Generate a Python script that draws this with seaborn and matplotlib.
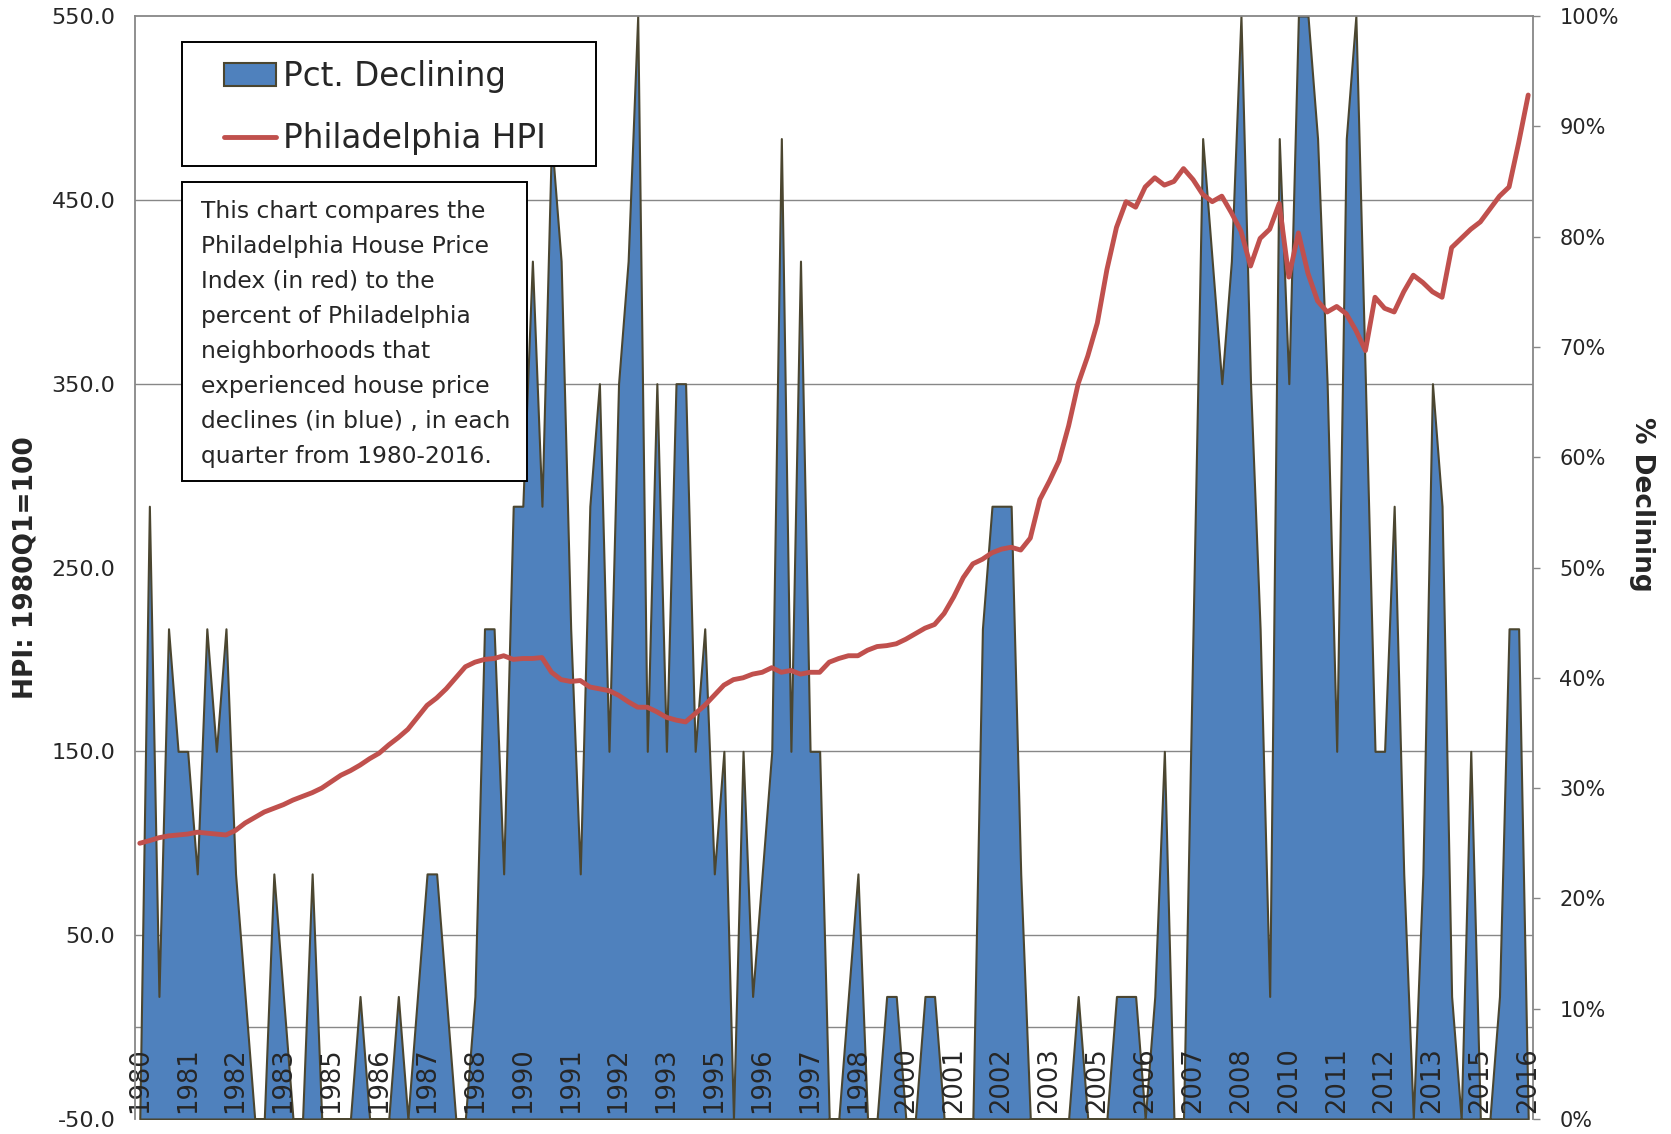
import numpy as np
import pandas as pd
import matplotlib
matplotlib.use("Agg")
import matplotlib.pyplot as plt
import seaborn as sns
from matplotlib.patches import Rectangle, Patch
from matplotlib.lines import Line2D
from matplotlib.ticker import FuncFormatter

# ---- data: quarterly, 1980Q1 .. 2016Q2 ----
quarters = [f"{y}Q{q}" for y in range(1980, 2017) for q in range(1, 5)][:146]

# number of the 9 Philadelphia neighborhoods with a price decline in the quarter
n_neighborhoods = 9
n_declining = [
    0, 5, 1, 4, 3, 3, 2, 4, 3, 4, 2, 1, 0, 0, 2, 1, 0, 0, 2, 0,
    0, 0, 0, 1, 0, 0, 0, 1, 0, 1, 2, 2, 1, 0, 0, 1, 4, 4, 2, 5,
    5, 7, 5, 8, 7, 4, 2, 5, 6, 3, 6, 7, 9, 3, 6, 3, 6, 6, 3, 4,
    2, 3, 0, 3, 1, 2, 3, 8, 3, 7, 3, 3, 0, 0, 1, 2, 0, 0, 1, 1,
    0, 0, 1, 1, 0, 0, 0, 0, 4, 5, 5, 5, 2, 0, 0, 0, 0, 0, 1, 0,
    0, 0, 1, 1, 1, 0, 1, 3, 0, 0, 4, 8, 7, 6, 7, 9, 6, 4, 1, 8,
    6, 9, 9, 8, 6, 3, 8, 9, 6, 3, 3, 5, 2, 0, 2, 6, 5, 1, 0, 3,
    0, 0, 1, 4, 4, 0,
]
pct_declining = [v / n_neighborhoods for v in n_declining]

# Philadelphia house price index, 1980Q1 = 100
hpi = [
    100, 101.4, 103, 104, 104.5, 105, 106, 105.5, 105, 104.5,
    107, 111, 114, 117, 119, 121, 123.5, 125.5, 127.5, 130,
    133.5, 137, 139.5, 142.5, 146, 149, 153.5, 157.5, 162, 168.5,
    175, 179, 184, 190, 196, 198.5, 200, 200.5, 202, 200,
    200.5, 200.5, 201, 193, 189, 188, 188.5, 185, 184, 183,
    180.5, 177, 174, 174, 171.5, 168.5, 167, 166, 170.5, 175,
    180.5, 186, 189, 190, 192, 193, 195.5, 193, 194, 192,
    193, 193, 198.5, 200.5, 202, 202, 205, 207, 207.5, 208.5,
    211, 214, 217, 219, 225, 234, 244.5, 252, 254.5, 258,
    260, 261, 259.5, 266, 287, 297, 308, 327, 350, 365,
    383, 412, 435, 449, 446, 457, 462, 458, 460, 467,
    461, 453, 449, 452, 443, 433, 414, 429, 434, 448,
    408, 432, 410, 395, 389, 392, 388, 379, 368, 397,
    391, 389, 400, 409, 405, 400, 397, 424, 429, 434,
    438, 445, 452, 457, 481, 507,
]

tick_years = [
    "1980", "1981", "1982", "1983", "1985", "1986", "1987", "1988",
    "1990", "1991", "1992", "1993", "1995", "1996", "1997", "1998",
    "2000", "2001", "2002", "2003", "2005", "2006", "2007", "2008",
    "2010", "2011", "2012", "2013", "2015", "2016",
]
tick_pos = list(range(0, len(quarters), 5))

note_lines = [
    "This chart compares the",
    "Philadelphia House Price",
    "Index (in red) to the",
    "percent of Philadelphia",
    "neighborhoods that",
    "experienced house price",
    "declines (in blue) , in each",
    "quarter from 1980-2016.",
]

df = pd.DataFrame({
    "q": np.arange(len(quarters)),
    "quarter": quarters,
    "pct": pct_declining,
    "hpi": hpi,
})

# ---- style ----
BLUE = "#4F81BD"
OLIVE = "#4B4630"
RED = "#C0504D"
GRID = "#878787"

sns.set_style("white")
plt.rcParams["font.family"] = ["DejaVu Sans"]

W, H = 1671, 1134
fig = plt.figure(figsize=(W / 100, H / 100), dpi=100)
ax_l = fig.add_axes([135 / W, 15 / H, 1398 / W, 1103 / H])
ax_r = ax_l.twinx()
ax_r.set_zorder(1)
ax_l.set_zorder(2)
ax_l.patch.set_visible(False)

HPI_LO, HPI_HI = -50, 550
hpi_ticks = np.arange(HPI_LO, HPI_HI + 1, 100)

# ---- right axis: share of neighborhoods declining (area) ----
ax_r.fill_between(df["q"], 0, df["pct"], facecolor=BLUE, edgecolor=OLIVE,
                  linewidth=1.5, zorder=2)
ax_r.set_ylim(0, 1)
ax_r.set_yticks(np.linspace(0, 1, 11))
ax_r.yaxis.set_major_formatter(FuncFormatter(lambda v, _: f"{v:.0%}"))

# horizontal grid at the left-axis ticks, kept behind the area
grid_pos = [(t - HPI_LO) / (HPI_HI - HPI_LO) for t in hpi_ticks[1:]]
ax_r.set_yticks(grid_pos, minor=True)
ax_r.set_axisbelow(True)
ax_r.grid(True, which="minor", axis="y", color=GRID, linewidth=1.0)
ax_r.grid(False, which="major")
ax_r.axhline((0 - HPI_LO) / (HPI_HI - HPI_LO), color=GRID, linewidth=1.0, zorder=0.6)

ax_r.tick_params(axis="y", which="minor", length=0)
ax_r.tick_params(axis="y", which="major", direction="out", length=5, width=1,
                 color=GRID, pad=14, labelsize=15, right=True, left=False)
for side, sp in ax_r.spines.items():
    sp.set_visible(side in ("right", "top"))
    sp.set_color(GRID)
    sp.set_linewidth(1.3)

ax_r.set_ylabel("% Declining", rotation=270, fontsize=19, fontweight="bold",
                ha="center", va="center")
ax_r.yaxis.set_label_coords(1.078, 0.557)

# ---- left axis: house price index (line) ----
sns.lineplot(data=df, x="q", y="hpi", ax=ax_l, color=RED, linewidth=3.5,
             legend=False, zorder=3)
ax_l.set_xlim(-0.5, len(quarters) - 0.5)
ax_l.set_ylim(HPI_LO, HPI_HI)
ax_l.set_yticks(hpi_ticks)
ax_l.yaxis.set_major_formatter(FuncFormatter(lambda v, _: f"{v:.1f}"))
ax_l.tick_params(axis="y", length=0, pad=14, labelsize=16)

ax_l.set_xticks(tick_pos)
ax_l.set_xticklabels(tick_years, rotation=90, fontsize=18.5)
ax_l.tick_params(axis="x", length=0, direction="in", pad=-51.8)

for side, sp in ax_l.spines.items():
    sp.set_visible(side == "left")
    sp.set_color(GRID)
    sp.set_linewidth(1.3)

ax_l.set_xlabel("")
ax_l.set_ylabel("HPI: 1980Q1=100", fontsize=19, fontweight="bold",
                ha="center", va="center")
ax_l.yaxis.set_label_coords(-0.078, 0.5)

# ---- legend in a boxed frame ----
ax_l.add_artist(Rectangle((182 / W, 1 - 166 / H), 414 / W, 124 / H,
                          transform=fig.transFigure, facecolor="white",
                          edgecolor="black", linewidth=1.4, zorder=5))
handles = [
    Patch(facecolor=BLUE, edgecolor=OLIVE, linewidth=1.5, label="Pct. Declining"),
    Line2D([], [], color=RED, linewidth=3.5, label="Philadelphia HPI"),
]
leg = ax_l.legend(handles=handles, loc="upper left",
                  bbox_to_anchor=(224 / W, 1 - 60 / H),
                  bbox_transform=fig.transFigure, frameon=False,
                  fontsize=23.5, borderpad=0, borderaxespad=0,
                  handlelength=1.6, handleheight=0.7, handletextpad=0.2,
                  labelspacing=0.9)
leg.set_zorder(6)

# ---- explanatory note ----
ax_l.add_artist(Rectangle((182 / W, 1 - 481 / H), 345 / W, 299 / H,
                          transform=fig.transFigure, facecolor="white",
                          edgecolor="black", linewidth=1.4, zorder=5))
for k, line in enumerate(note_lines):
    ax_l.text(201 / W, 1 - (218 + 35 * k) / H, line, transform=fig.transFigure,
              fontsize=16.8, va="baseline", ha="left", zorder=7)

fig.savefig("out.png", dpi=100)
